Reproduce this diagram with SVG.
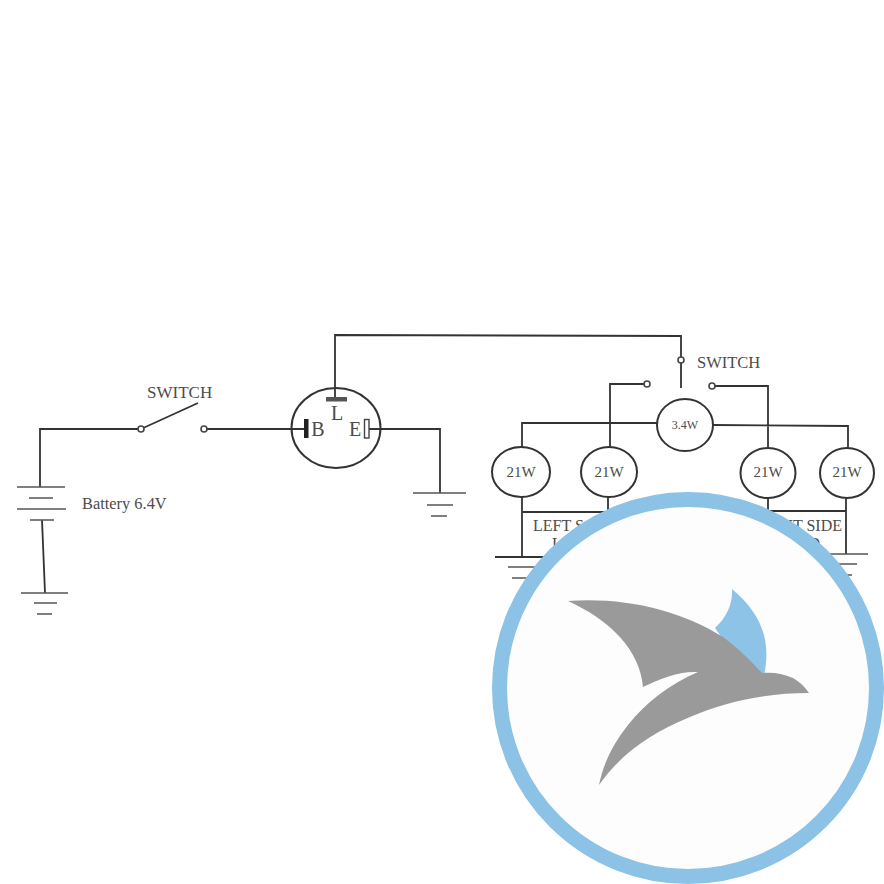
<svg xmlns="http://www.w3.org/2000/svg" width="884" height="884" viewBox="0 0 884 884">
<style>
.w{fill:none;stroke:#333;stroke-width:1.8}
.n{fill:#fff;stroke:#333;stroke-width:2}
.f{fill:#fff;stroke:#444;stroke-width:1.6}
.g{fill:none;stroke:#555;stroke-width:1.5}
text{font-family:"Liberation Serif","Times New Roman",serif;fill:#4c4c4c}
.c{text-anchor:middle}
</style>
<rect width="884" height="884" fill="#fff"/>
<g id="connectors">
<path class="w" d="M40 487V429H141M141 429L198 403M204 429H306M369 429H440V493"/>
<path class="w" d="M42 520L45 593"/>
<path class="w" d="M335 399V335L681 336V388"/>
<path class="w" d="M644 384H610V448M522 448V423H657M713 425L848 426V448M715 386H768V448"/>
<path class="w" d="M522 497V557M608 497V520M768 498V520M846 498V554M522 512H620M760 511H846"/>
</g>
<g id="battery">
<path class="g" d="M17 487H65M29 498H53M17 509H66M30 520H54"/>
<text x="82" y="509" font-size="16.4">Battery 6.4V</text>
</g>
<g id="ground-battery"><path class="g" d="M21 593H68M34 603H57M37 614H52"/></g>
<g id="switch-left">
<circle cx="141" cy="429" r="3" class="f"/><circle cx="204" cy="429" r="3" class="f"/>
<text x="147" y="398" font-size="17">SWITCH</text>
</g>
<g id="flasher">
<ellipse cx="336" cy="428" rx="44.500" ry="40" class="n"/>
<path class="w" d="M335 388V399M292 429H306M369 429H381"/>
<rect x="326" y="397" width="21" height="4.500" fill="#555"/>
<rect x="304" y="419" width="4.500" height="19" fill="#222"/>
<rect x="364.500" y="419.500" width="4.500" height="18.500" fill="#fff" stroke="#444" stroke-width="1.400"/>
<text x="337" y="420" font-size="20" class="c">L</text>
<text x="318" y="436" font-size="20" class="c">B</text>
<text x="355" y="436" font-size="20" class="c">E</text>
</g>
<g id="ground-flasher"><path class="g" d="M413 493H466M427 505H453M431 516H447"/></g>
<g id="switch-right">
<circle cx="681" cy="360" r="3" class="f"/><circle cx="647" cy="384" r="3" class="f"/><circle cx="712" cy="386" r="3" class="f"/>
<text x="697" y="368" font-size="16.500">SWITCH</text>
</g>
<g id="lamp-center"><ellipse cx="685" cy="425" rx="28" ry="26" class="n"/><text x="685" y="429" font-size="12" class="c">3.4W</text></g>
<g id="lamp-1"><ellipse cx="521" cy="472" rx="29" ry="25" class="n"/><text x="521" y="477" font-size="15" class="c">21W</text></g>
<g id="lamp-2"><ellipse cx="609" cy="472" rx="28" ry="25" class="n"/><text x="609" y="477" font-size="15" class="c">21W</text></g>
<g id="lamp-3"><ellipse cx="768" cy="473" rx="27.500" ry="25" class="n"/><text x="768" y="477" font-size="15" class="c">21W</text></g>
<g id="lamp-4"><ellipse cx="847" cy="473" rx="27" ry="25" class="n"/><text x="847" y="477" font-size="15" class="c">21W</text></g>
<g id="ground-left">
<path class="w" d="M495 557H560"/><path class="g" d="M508 567H545M512 578H540"/>
<text x="533" y="531" font-size="16">LEFT S</text>
<text x="552" y="549" font-size="16">L</text>
</g>
<g id="ground-right">
<path class="g" d="M810 554H868M800 564H857M800 575H852"/>
<text x="842" y="531" font-size="16" text-anchor="end">IT SIDE</text>
<text x="820" y="549" font-size="16" text-anchor="end">D</text>
</g>
<g id="logo">
<circle cx="688" cy="688" r="188.500" fill="#fdfdfd" stroke="#8bc2e6" stroke-width="15"/>
<path fill="#8dc3e6" d="M732 589C733 603 727 617 715 628L755 685L764 675C772 640 760 612 732 589Z"/>
<path fill="#9a9a9a" d="M568 601C625 597 680 610 723 637C738 648 750 660 762 673C772 672 782 673 793 678C800 682 805 687 809 693C770 693 730 700 690 717C650 733 620 755 599 785C603 765 612 745 628 725C645 703 670 684 698 672C678 671 660 679 643 687C640 650 610 620 568 601Z"/>
</g>
</svg>
